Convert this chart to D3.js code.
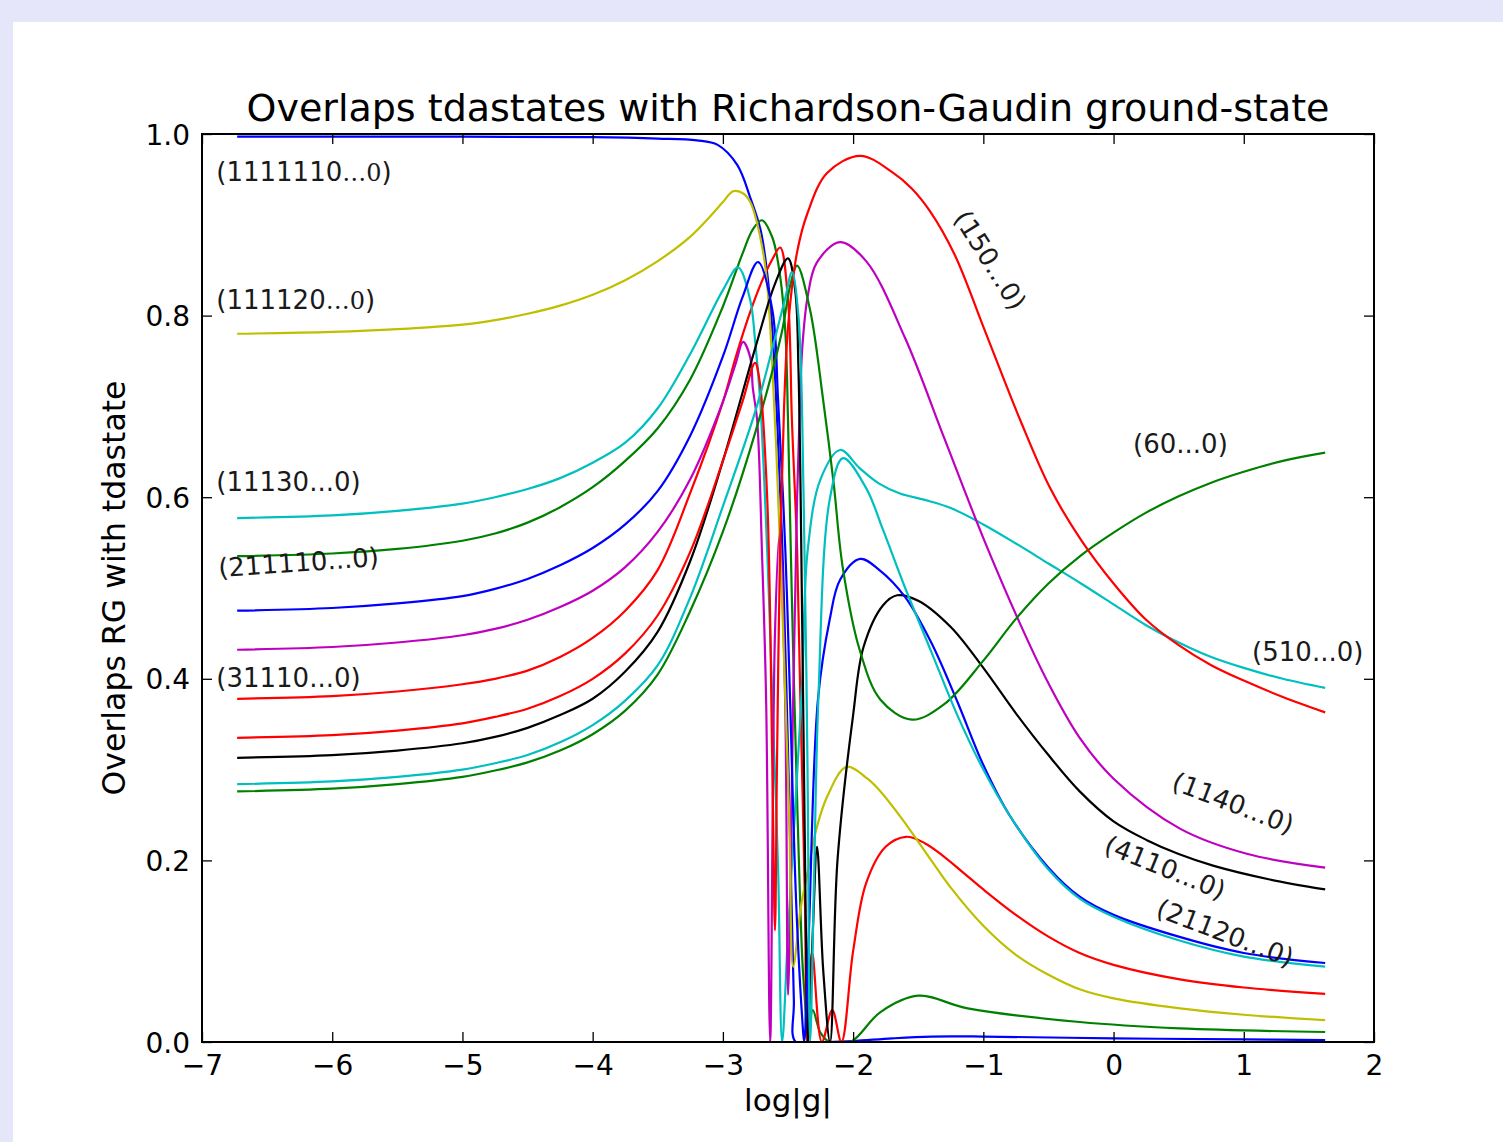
<!DOCTYPE html>
<html>
<head>
<meta charset="utf-8">
<script src="https://cdn.jsdelivr.net/npm/d3@7"></script>
<style>
  html, body { margin: 0; padding: 0; background: #e6e6fa; }
  svg { display: block; }
</style>
</head>
<body>
<svg id="chart"></svg>
<script>
// overlap curves, [log|g|, overlap]
const b1 = [[-6.73,0.997],[-5,0.997],[-4,0.9965],[-3.5,0.995],[-3.2,0.993],[-3.04,0.988],[-2.89,0.966],[-2.79,0.93],[-2.71,0.894],[-2.66,0.847],[-2.62,0.784],[-2.58,0.674],[-2.54,0.53],[-2.51,0.377],[-2.48,0.2],[-2.455,0.046],[-2.44,0.0],[-2.2,0.0],[-2.0,0.001],[-1.7,0.004],[-1.4,0.006],[-1.0,0.006],[0,0.004],[1.0,0.003],[1.625,0.002]];
const g1 = [[-6.73,0.535],[-6,0.538],[-5.5,0.543],[-5,0.552],[-4.75,0.56],[-4.5,0.572],[-4.25,0.589],[-4,0.611],[-3.75,0.64],[-3.5,0.676],[-3.25,0.73],[-3.0,0.81],[-2.85,0.868],[-2.77,0.895],[-2.7,0.905],[-2.62,0.886],[-2.56,0.843],[-2.52,0.781],[-2.5,0.685],[-2.47,0.487],[-2.43,0.267],[-2.39,0.09],[-2.37,0.046],[-2.35,0.0],[-2.31,0.035],[-2.25,0.01],[-2.18,0.0],[-2.02,0.0],[-1.79,0.033],[-1.5,0.051],[-1.12,0.037],[-0.26,0.022],[0.51,0.015],[1.625,0.011]];
const r1 = [[-6.73,0.378],[-6,0.381],[-5.5,0.386],[-5,0.394],[-4.75,0.4],[-4.5,0.409],[-4.25,0.424],[-4,0.445],[-3.75,0.475],[-3.5,0.52],[-3.25,0.605],[-3.0,0.705],[-2.9,0.755],[-2.8,0.8],[-2.7,0.838],[-2.62,0.862],[-2.56,0.875],[-2.5,0.817],[-2.47,0.685],[-2.43,0.542],[-2.405,0.377],[-2.37,0.156],[-2.353,0.0],[-2.315,0.099],[-2.24,0.0],[-2.16,0.035],[-2.09,0.0],[-2.0,0.1],[-1.9,0.175],[-1.75,0.215],[-1.593,0.226],[-1.45,0.219],[-1.3,0.204],[-1.15,0.186],[-1.0,0.168],[-0.75,0.14],[-0.5,0.116],[-0.26,0.098],[0,0.085],[0.51,0.069],[1.0,0.06],[1.625,0.053]];
const c1 = [[-6.73,0.577],[-6,0.58],[-5.5,0.585],[-5,0.593],[-4.75,0.6],[-4.5,0.609],[-4.25,0.621],[-4,0.638],[-3.75,0.66],[-3.5,0.698],[-3.25,0.758],[-3.0,0.828],[-2.883,0.853],[-2.79,0.817],[-2.753,0.773],[-2.714,0.707],[-2.66,0.542],[-2.62,0.377],[-2.576,0.19],[-2.545,0.0],[-2.5,0.12],[-2.44,0.27],[-2.39,0.4],[-2.35,0.54],[-2.25,0.62],[-2.1,0.652],[-1.95,0.632],[-1.8,0.615],[-1.64,0.604],[-1.45,0.597],[-1.25,0.588],[-1.0,0.57],[-0.75,0.549],[-0.5,0.527],[-0.25,0.505],[0,0.482],[0.25,0.459],[0.5,0.44],[0.75,0.424],[1.0,0.412],[1.3,0.4],[1.625,0.39]];
const m1 = [[-6.73,0.432],[-6,0.435],[-5.5,0.44],[-5,0.448],[-4.75,0.455],[-4.5,0.465],[-4.25,0.479],[-4,0.497],[-3.75,0.523],[-3.5,0.562],[-3.25,0.62],[-3.0,0.705],[-2.9,0.748],[-2.845,0.771],[-2.79,0.754],[-2.77,0.72],[-2.737,0.685],[-2.7,0.54],[-2.668,0.377],[-2.637,0.0],[-2.6,0.45],[-2.565,0.56],[-2.522,0.377],[-2.499,0.052],[-2.46,0.38],[-2.43,0.6],[-2.407,0.71],[-2.39,0.765],[-2.35,0.82],[-2.28,0.858],[-2.1,0.881],[-1.9,0.86],[-1.6,0.775],[-1.3,0.665],[-1.0,0.555],[-0.7,0.455],[-0.5,0.395],[-0.26,0.335],[0,0.29],[0.51,0.235],[1.03,0.207],[1.625,0.192]];
const y1 = [[-6.73,0.78],[-6,0.782],[-5.5,0.785],[-5,0.79],[-4.75,0.795],[-4.5,0.802],[-4.25,0.811],[-4,0.823],[-3.75,0.839],[-3.5,0.86],[-3.25,0.887],[-3.1,0.909],[-3.0,0.925],[-2.922,0.937],[-2.85,0.935],[-2.79,0.925],[-2.69,0.869],[-2.65,0.817],[-2.62,0.743],[-2.59,0.652],[-2.56,0.542],[-2.52,0.377],[-2.49,0.244],[-2.46,0.083],[-2.4,0.15],[-2.34,0.193],[-2.29,0.23],[-2.2,0.27],[-2.05,0.303],[-1.89,0.29],[-1.79,0.276],[-1.62,0.245],[-1.4,0.2],[-1.25,0.17],[-1.0,0.128],[-0.75,0.096],[-0.5,0.074],[-0.26,0.058],[0,0.048],[0.51,0.037],[1.0,0.03],[1.625,0.024]];
const k1 = [[-6.73,0.313],[-6,0.316],[-5.5,0.321],[-5,0.329],[-4.75,0.336],[-4.5,0.346],[-4.25,0.36],[-4,0.378],[-3.75,0.408],[-3.5,0.452],[-3.25,0.53],[-3.0,0.64],[-2.75,0.765],[-2.6,0.835],[-2.5,0.863],[-2.445,0.828],[-2.42,0.743],[-2.39,0.45],[-2.365,0.15],[-2.346,0.0],[-2.31,0.12],[-2.277,0.215],[-2.23,0.08],[-2.177,0.0],[-2.12,0.2],[-2.0,0.36],[-1.92,0.435],[-1.77,0.481],[-1.662,0.492],[-1.5,0.486],[-1.25,0.457],[-1.0,0.412],[-0.75,0.362],[-0.5,0.316],[-0.26,0.276],[0,0.243],[0.26,0.222],[0.5,0.207],[0.77,0.194],[1.2,0.179],[1.625,0.168]];
const b2 = [[-6.73,0.475],[-6,0.478],[-5.5,0.483],[-5,0.491],[-4.75,0.499],[-4.5,0.51],[-4.25,0.525],[-4,0.544],[-3.75,0.57],[-3.5,0.607],[-3.25,0.668],[-3.0,0.755],[-2.85,0.82],[-2.73,0.859],[-2.62,0.806],[-2.576,0.707],[-2.52,0.54],[-2.484,0.377],[-2.438,0.156],[-2.39,0.024],[-2.376,0.0],[-2.34,0.12],[-2.27,0.377],[-2.18,0.465],[-2.1,0.509],[-1.946,0.532],[-1.8,0.52],[-1.6,0.49],[-1.4,0.44],[-1.2,0.375],[-1.0,0.305],[-0.8,0.25],[-0.5,0.192],[-0.26,0.16],[0,0.14],[0.5,0.116],[1.0,0.098],[1.625,0.087]];
const g2 = [[-6.73,0.276],[-6,0.279],[-5.5,0.284],[-5,0.292],[-4.75,0.299],[-4.5,0.308],[-4.25,0.321],[-4,0.339],[-3.75,0.365],[-3.5,0.405],[-3.25,0.475],[-3.0,0.562],[-2.75,0.672],[-2.55,0.78],[-2.48,0.835],[-2.43,0.855],[-2.33,0.806],[-2.23,0.707],[-2.15,0.616],[-2.08,0.523],[-1.95,0.432],[-1.79,0.377],[-1.55,0.355],[-1.3,0.372],[-1.0,0.42],[-0.75,0.466],[-0.5,0.505],[-0.25,0.536],[0,0.561],[0.25,0.583],[0.5,0.601],[0.75,0.616],[1.0,0.628],[1.3,0.64],[1.625,0.649]];
const r2 = [[-6.73,0.335],[-6,0.338],[-5.5,0.343],[-5,0.351],[-4.75,0.358],[-4.5,0.367],[-4.25,0.381],[-4,0.4],[-3.75,0.428],[-3.5,0.47],[-3.25,0.54],[-3.0,0.64],[-2.85,0.705],[-2.753,0.748],[-2.72,0.73],[-2.66,0.6],[-2.62,0.3],[-2.6,0.123],[-2.585,0.3],[-2.56,0.55],[-2.53,0.7],[-2.5,0.787],[-2.43,0.87],[-2.35,0.913],[-2.2,0.957],[-1.946,0.976],[-1.7,0.958],[-1.55,0.94],[-1.41,0.915],[-1.22,0.867],[-0.99,0.784],[-0.717,0.685],[-0.487,0.61],[-0.25,0.553],[0,0.505],[0.25,0.465],[0.5,0.437],[0.75,0.415],[1.0,0.398],[1.3,0.38],[1.625,0.363]];
const c2 = [[-6.73,0.284],[-6,0.287],[-5.5,0.292],[-5,0.3],[-4.75,0.307],[-4.5,0.316],[-4.25,0.33],[-4,0.349],[-3.75,0.376],[-3.5,0.415],[-3.25,0.49],[-3.0,0.59],[-2.75,0.695],[-2.6,0.775],[-2.52,0.82],[-2.47,0.848],[-2.42,0.8],[-2.38,0.6],[-2.35,0.3],[-2.33,0.0],[-2.3,0.18],[-2.267,0.377],[-2.18,0.597],[-2.077,0.643],[-1.9,0.61],[-1.77,0.564],[-1.6,0.5],[-1.4,0.43],[-1.2,0.36],[-1.0,0.3],[-0.8,0.25],[-0.5,0.19],[-0.26,0.158],[0,0.138],[0.5,0.112],[1.0,0.094],[1.625,0.083]];

// matplotlib color cycle b g r c m y k
const curves = [b1, g1, r1, c1, m1, y1, k1, b2, g2, r2, c2];
const colors = ["#0000ff", "#008000", "#ff0000", "#00bfbf", "#bf00bf", "#bfbf00", "#000000",
                "#0000ff", "#008000", "#ff0000", "#00bfbf"];

const xTicks = [-7, -6, -5, -4, -3, -2, -1, 0, 1, 2];
const yTicks = [0.0, 0.2, 0.4, 0.6, 0.8, 1.0];

// labels with the "...0" part in the serif (mathtext) font
const mathLabels = ["(1111110", "(111120"];
const plainLabels = ["(11130...0)", "(31110...0)", "(211110...0)", "(60...0)", "(510...0)",
                     "(150...0)", "(1140...0)", "(4110...0)", "(21120...0)"];

const width = 1503, height = 1142;
const margin = { top: 134, right: 129, bottom: 100, left: 202 };

const svg = d3.select("#chart")
  .attr("width", width)
  .attr("height", height)
  .style("font-family", "'DejaVu Sans', sans-serif");

// white figure patch on lavender page
svg.append("rect")
  .attr("x", 13).attr("y", 22)
  .attr("width", width - 13).attr("height", height - 22)
  .attr("fill", "#ffffff");

const x = d3.scaleLinear().domain([-7, 2]).range([margin.left, width - margin.right]);
const y = d3.scaleLinear().domain([0, 1]).range([height - margin.bottom, margin.top]);

svg.append("clipPath").attr("id", "plotclip")
  .append("rect")
  .attr("x", x(-7)).attr("y", y(1) - 2)
  .attr("width", x(2) - x(-7)).attr("height", y(0) - y(1) + 3);

const line = d3.line()
  .x(d => x(d[0]))
  .y(d => y(d[1]))
  .curve(d3.curveCatmullRom.alpha(0.5));

svg.append("g")
  .attr("clip-path", "url(#plotclip)")
  .selectAll("path")
  .data(curves)
  .join("path")
  .attr("d", line)
  .attr("fill", "none")
  .attr("stroke", (d, i) => colors[i])
  .attr("stroke-width", 2.2)
  .attr("stroke-linejoin", "round");

// axes, ticks pointing inwards on all four sides
const tickLen = 10;
const xb = svg.append("g")
  .attr("transform", `translate(0,${y(0)})`)
  .call(d3.axisBottom(x).tickValues(xTicks).tickFormat(d3.format("d"))
    .tickSizeInner(-tickLen).tickSizeOuter(0).tickPadding(9));
const xt = svg.append("g")
  .attr("transform", `translate(0,${y(1)})`)
  .call(d3.axisTop(x).tickValues(xTicks).tickFormat("")
    .tickSizeInner(-tickLen).tickSizeOuter(0));
const yl = svg.append("g")
  .attr("transform", `translate(${x(-7)},0)`)
  .call(d3.axisLeft(y).tickValues(yTicks).tickFormat(d3.format(".1f"))
    .tickSizeInner(-tickLen).tickSizeOuter(0).tickPadding(12));
const yr = svg.append("g")
  .attr("transform", `translate(${x(2)},0)`)
  .call(d3.axisRight(y).tickValues(yTicks).tickFormat("")
    .tickSizeInner(-tickLen).tickSizeOuter(0));

[xb, xt, yl, yr].forEach(g => {
  g.select(".domain").remove();
  g.selectAll(".tick line").attr("stroke", "#000").attr("stroke-width", 1.3);
  g.selectAll(".tick text")
    .attr("fill", "#000")
    .style("font-family", "'DejaVu Sans', sans-serif")
    .style("font-size", "28px");
});
xb.selectAll(".tick text").attr("dy", "0.85em");
yl.selectAll(".tick text").attr("dy", "0.36em");

// frame
svg.append("rect")
  .attr("x", x(-7)).attr("y", y(1))
  .attr("width", x(2) - x(-7)).attr("height", y(0) - y(1))
  .attr("fill", "none")
  .attr("stroke", "#000")
  .attr("stroke-width", 2);

// titles
svg.append("text")
  .attr("x", (x(-7) + x(2)) / 2).attr("y", 121)
  .attr("text-anchor", "middle")
  .style("font-size", "38px")
  .text("Overlaps tdastates with Richardson-Gaudin ground-state");

svg.append("text")
  .attr("x", (x(-7) + x(2)) / 2).attr("y", 1111)
  .attr("text-anchor", "middle")
  .style("font-size", "31px")
  .text("log|g|");

svg.append("text")
  .attr("transform", `translate(125,${(y(0) + y(1)) / 2}) rotate(-90)`)
  .attr("text-anchor", "middle")
  .style("font-size", "31.5px")
  .text("Overlaps RG with tdastate");

// annotations
const ann = svg.append("g").style("font-size", "26px").attr("fill", "#1a1a1a");

[[mathLabels[0], 0.948], [mathLabels[1], 0.807]].forEach(([s, v]) => {
  const t = ann.append("text").attr("x", x(-6.89)).attr("y", y(v));
  t.append("tspan").text(s);
  t.append("tspan").style("font-family", "'DejaVu Serif', serif").style("font-size", "24px").text("\u20260");
  t.append("tspan").text(")");
});

ann.append("text").attr("x", x(-6.89)).attr("y", y(0.607)).text(plainLabels[0]);
ann.append("text").attr("x", x(-6.89)).attr("y", y(0.391)).text(plainLabels[1]);
ann.append("text")
  .attr("transform", `translate(${x(-6.87)},${y(0.512)}) rotate(-4)`)
  .text(plainLabels[2]);
ann.append("text").attr("x", x(0.15)).attr("y", y(0.649)).text(plainLabels[3]);
ann.append("text").attr("x", x(1.064)).attr("y", y(0.42)).text(plainLabels[4]);

const rotated = [
  [plainLabels[5], -0.948, 0.861, 58],
  [plainLabels[6], 0.918, 0.263, 21],
  [plainLabels[7], 0.396, 0.192, 22],
  [plainLabels[8], 0.857, 0.12, 21]
];
rotated.forEach(([s, gx, gy, a]) => {
  ann.append("text")
    .attr("transform", `translate(${x(gx)},${y(gy)}) rotate(${a})`)
    .attr("text-anchor", "middle")
    .attr("dominant-baseline", "central")
    .text(s);
});
</script>
</body>
</html>
